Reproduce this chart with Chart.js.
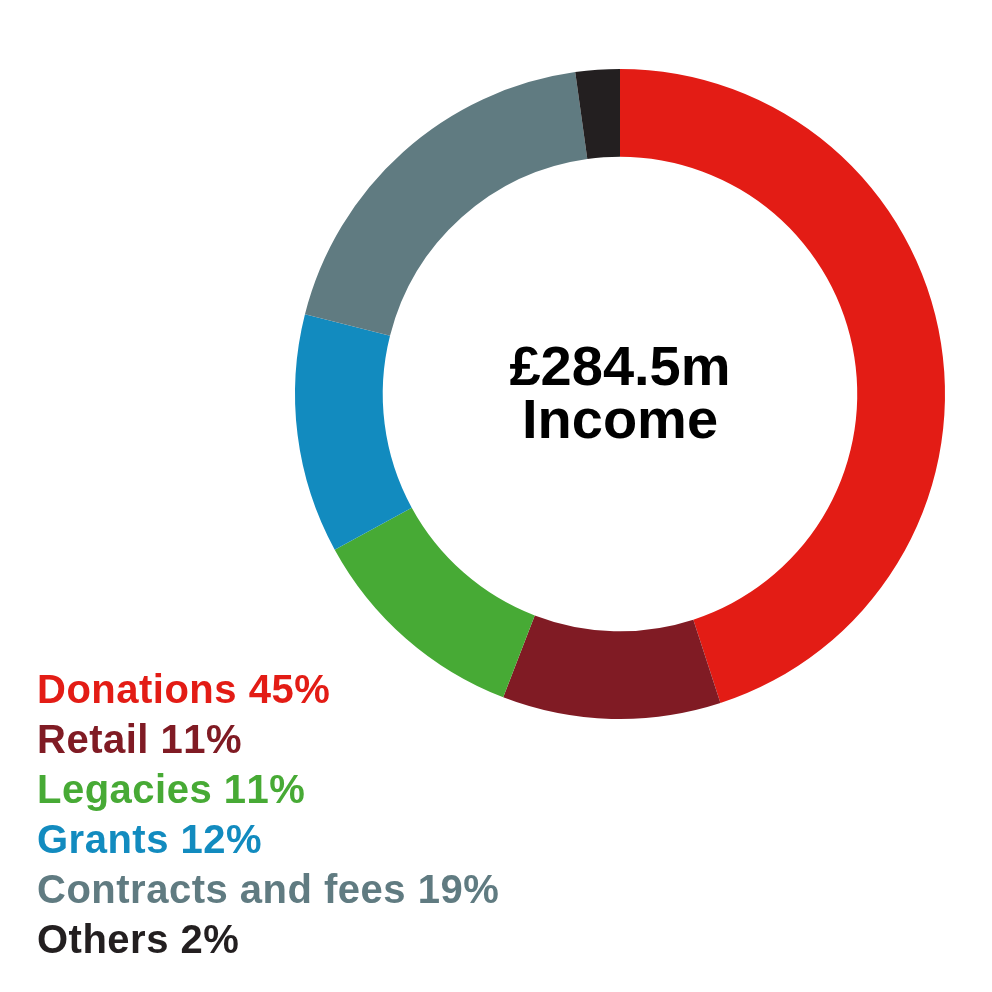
<!DOCTYPE html>
<html>
<head>
<meta charset="utf-8">
<script src="https://cdn.jsdelivr.net/npm/chart.js@4.4.0/dist/chart.umd.min.js"></script>
<style>
    body { margin: 0; background: #fff; }
    #wrap { position: relative; width: 992px; height: 992px; }
    #legend { position: absolute; left: 37px; top: 664px; font-family: "Liberation Sans", Arial, sans-serif; font-weight: bold; font-size: 40px; line-height: 50px; letter-spacing: 0.5px; font-kerning: none; }
</style>
</head>
<body>
<div id="wrap">
    <canvas id="myChart" width="992" height="992"></canvas>
    <div id="legend"></div>
</div>
<script>
const CHART = document.getElementById('myChart');

const categories = ['Donations', 'Retail', 'Legacies', 'Grants', 'Contracts and fees', 'Others'];
// rounded shares as printed in the legend
const shares = [45, 11, 11, 12, 19, 2];
// slice sizes as measured off the ring
const sliceValues = [45.0, 10.85, 11.2, 11.9, 18.85, 2.2];
const colours = ['#e31c15', '#801b24', '#47aa35', '#128bbf', '#607b81', '#231f20'];
const centreLines = ['£284.5m', 'Income'];

// legend lines, coloured text only
const legend = document.getElementById('legend');
categories.forEach((name, i) => {
    let line = document.createElement('div');
    line.style.color = colours[i];
    line.textContent = name + ' ' + shares[i] + '%';
    legend.appendChild(line);
});

const centreText = {
    id: 'centreText',
    afterDraw: (chart) => {
        const meta = chart.getDatasetMeta(0).data[0];
        const ctx = chart.ctx;
        ctx.save();
        ctx.font = 'bold 56px "Liberation Sans", Arial, sans-serif';
        ctx.fillStyle = '#000';
        ctx.textAlign = 'center';
        ctx.textBaseline = 'alphabetic';
        ctx.fillText(centreLines[0], meta.x, meta.y - 9);
        ctx.fillText(centreLines[1], meta.x, meta.y + 44);
        ctx.restore();
    }
};

let doughnutChart = new Chart(CHART, {
    type: 'doughnut',
    data: {
        labels: categories,
        datasets: [
            {
                label: 'Income',
                backgroundColor: colours,
                borderWidth: 0,
                data: sliceValues
            }
        ]
    },
    options: {
        cutout: '73%',
        responsive: false,
        animation: false,
        devicePixelRatio: 1,
        layout: { padding: { left: 295, top: 69, right: 47, bottom: 273 } },
        plugins: {
            legend: { display: false },
            tooltip: { enabled: false }
        }
    },
    plugins: [centreText]
});
</script>
</body>
</html>
